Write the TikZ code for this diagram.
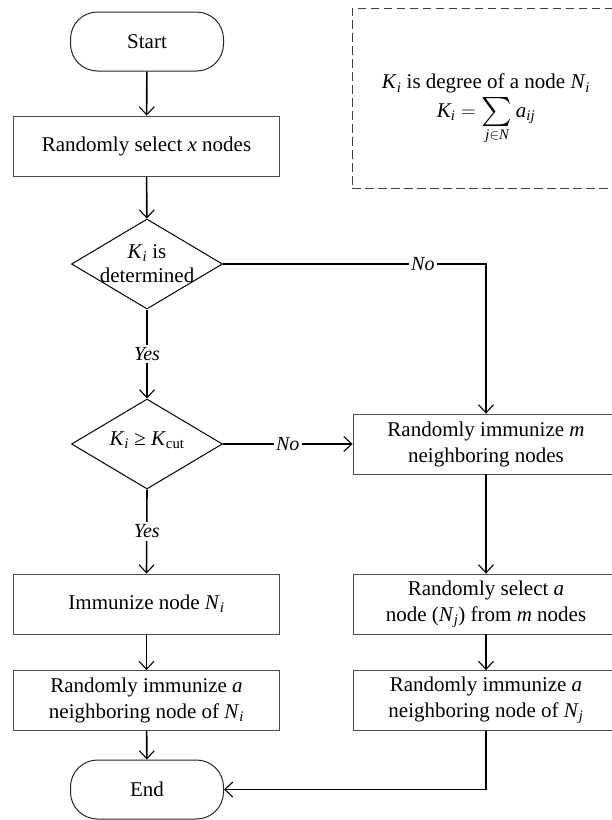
\documentclass[tikz,border=0pt]{standalone}
\usepackage{amsmath}
\usepackage{fontspec}
\setmainfont{Liberation Serif}
\usetikzlibrary{shapes.geometric,arrows.meta}
\newcommand{\iv}[1]{\textit{#1}}
\newcommand{\midsum}{\mathop{\vcenter{\hbox{\scalebox{1.4}{$\textstyle\sum$}}}}\limits}
\tikzset{
  txt/.style={font=\fontsize{21}{26}\selectfont},
  procbox/.style={txt, draw=black!70, line width=0.9pt, minimum width=266pt, minimum height=60pt, align=center, inner sep=0pt},
  termbox/.style={txt, draw=black!85, line width=1pt, rounded corners=27pt, minimum width=153pt, minimum height=59pt, inner sep=0pt},
  decbox/.style={txt, draw=black, line width=1pt, diamond, minimum width=151pt, minimum height=90pt, inner sep=0pt},
  notebox/.style={txt, draw=black!75, line width=1pt, dash pattern=on 8.5pt off 4.5pt, minimum width=268pt, minimum height=180pt, align=center, inner sep=0pt},
  arr/.style={line width=1.6pt, -{Straight Barb[length=8pt, width=15pt, line width=1.1pt]}},
  lab/.style={fill=white, inner sep=2.5pt, font=\fontsize{20}{24}\selectfont\itshape}
}
\begin{document}
\begin{tikzpicture}[x=1pt,y=-1pt]
\clip (0,0) rectangle (612,820);
\fill[white] (0,0) rectangle (612,820);

\node[termbox] (start) at (147,41.5) {Start};
\node[procbox] (sel) at (146.5,146) {Randomly select \iv{x} nodes};
\node[decbox] (d1) at (147,264) {\smash{\makebox[0pt]{\raisebox{-0.3em}{\begin{tabular}{@{}c@{}}\iv{K}\textsubscript{\iv{i}} is\\[-2pt] determined\end{tabular}}}}};
\node[decbox] (d2) at (147,444) {\smash{\makebox[0pt]{\raisebox{-0.05em}{\iv{K}\textsubscript{\iv{i}} ≥ \iv{K}\textsubscript{cut}}}}};
\node[procbox] (l1) at (146.5,604) {Immunize node \iv{N}\textsubscript{\iv{i}}};
\node[procbox] (l2) at (146.5,700.5) {Randomly immunize \iv{a}\\ neighboring node of \iv{N}\textsubscript{\iv{i}}};
\node[termbox] (end) at (147,789.5) {End};

\node[procbox] (r1) at (486,444) {Randomly immunize \iv{m}\\ neighboring nodes};
\node[procbox] (r2) at (486,604) {Randomly select \iv{a}\\ node (\iv{N}\textsubscript{\iv{j}}) from \iv{m} nodes};
\node[procbox] (r3) at (486,700.5) {Randomly immunize \iv{a}\\ neighboring node of \iv{N}\textsubscript{\iv{j}}};

\node[notebox] (note) at (486,98) {\begin{tabular}{@{}c@{}}\rule{0pt}{38pt}\iv{K}\textsubscript{\iv{i}} is degree of a node \iv{N}\textsubscript{\iv{i}}\\[1pt]
$\iv{K}_{\iv{i}} = \midsum_{\iv{j}\in \iv{N}} \iv{a}_{\iv{ij}}$\end{tabular}};

\draw[arr] (start) -- (sel);
\draw[arr] (sel) -- (d1);
\draw[arr] (d1.south) -- node[lab]{Yes} (d2.north);
\draw[arr] (d2.south) -- node[lab]{Yes} (l1.north);
\draw[arr] (l1) -- (l2);
\draw[arr] (l2) -- (end);
\draw[arr] (d1.east) -| node[lab, pos=0.38]{No} (r1.north);
\draw[arr] (d2.east) -- node[lab]{No} (r1.west);
\draw[arr] (r1) -- (r2);
\draw[arr] (r2) -- (r3);
\draw[arr] (r3.south) |- (end.east);
\end{tikzpicture}
\end{document}
